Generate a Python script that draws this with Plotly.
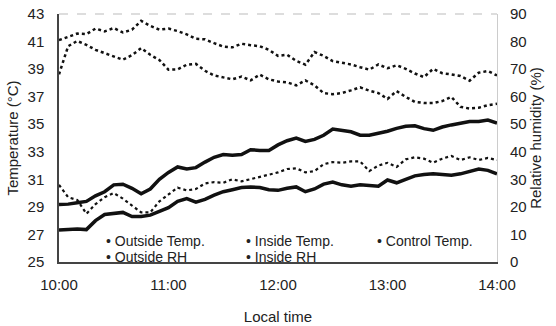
import plotly.graph_objects as go

# sampling grid (minutes after 10:00)
minutes = list(range(0, 241, 5))
times = [f"2024-01-01 {10 + m // 60:02d}:{m % 60:02d}:00" for m in minutes]

# temperatures (°C), left axis
outside_temp = [29.17, 29.2, 29.3, 29.4, 29.8, 30.1, 30.6, 30.65, 30.35, 29.95, 30.3, 31.0, 31.5,
                31.9, 31.75, 31.85, 32.25, 32.6, 32.8, 32.75, 32.8, 33.15, 33.1, 33.1, 33.5, 33.8,
                34.0, 33.75, 33.9, 34.2, 34.65, 34.55, 34.45, 34.2, 34.2, 34.35, 34.49, 34.7, 34.85,
                34.89, 34.68, 34.56, 34.8, 34.95, 35.05, 35.2, 35.2, 35.3, 35.08]
inside_temp = [30.6, 29.7, 29.5, 28.5, 29.2, 29.7, 30.0, 29.6, 29.1, 28.6, 28.6, 29.4, 29.9,
               30.4, 30.2, 30.3, 30.7, 30.8, 30.75, 31.0, 30.85, 31.0, 31.2, 31.3, 31.5, 31.75,
               31.8, 31.5, 31.6, 32.1, 32.25, 32.2, 32.3, 32.3, 31.6, 32.0, 32.2, 31.9, 32.45,
               32.6, 32.5, 32.2, 32.5, 32.7, 32.4, 32.6, 32.4, 32.55, 32.4]
control_temp = [27.33, 27.38, 27.4, 27.35, 28.0, 28.45, 28.55, 28.6, 28.3, 28.3, 28.4, 28.7, 28.95,
                29.4, 29.6, 29.35, 29.55, 29.85, 30.1, 30.25, 30.4, 30.45, 30.4, 30.25, 30.2, 30.35,
                30.45, 30.1, 30.3, 30.65, 30.8, 30.6, 30.5, 30.6, 30.55, 30.5, 30.95, 30.75, 31.0,
                31.25, 31.35, 31.4, 31.35, 31.3, 31.4, 31.55, 31.75, 31.65, 31.4]
# relative humidity (%), right axis
outside_rh = [68.1, 78.3, 80.2, 78.8, 77.0, 75.8, 74.6, 73.4, 75.1, 77.6, 75.2, 73.3, 69.8,
              69.9, 71.6, 71.9, 69.4, 67.7, 67.0, 66.3, 67.3, 65.9, 68.0, 66.3, 65.5, 65.2,
              64.1, 65.9, 64.1, 61.3, 60.9, 61.3, 62.3, 63.4, 62.2, 61.3, 59.2, 62.0, 59.9,
              58.1, 57.7, 57.7, 58.4, 59.9, 56.3, 55.7, 56.0, 56.9, 57.4]
inside_rh = [80.5, 81.8, 82.9, 82.7, 84.7, 83.7, 84.9, 83.3, 84.3, 87.5, 85.7, 84.3, 84.7,
             83.8, 82.6, 81.0, 80.8, 79.4, 78.2, 77.9, 79.2, 78.7, 78.3, 77.0, 74.8, 75.2,
             73.0, 71.6, 76.2, 74.8, 72.9, 72.3, 71.7, 70.7, 69.8, 71.7, 70.3, 71.4, 70.1,
             68.4, 67.1, 70.1, 68.5, 68.1, 67.5, 65.8, 68.7, 69.3, 67.7]

legend_row1 = ["Outside Temp.", "Inside Temp.", "Control Temp."]
legend_row2 = ["Outside RH", "Inside RH"]

FONT = "Liberation Sans, Arial, sans-serif"
INK = "#111"

fig = go.Figure()
fig.add_trace(go.Scatter(x=times, y=outside_temp, name="Outside Temp.", mode="lines",
                         line=dict(color=INK, width=3.5)))
fig.add_trace(go.Scatter(x=times, y=inside_temp, name="Inside Temp.", mode="lines",
                         line=dict(color=INK, width=2.2, dash="dot")))
fig.add_trace(go.Scatter(x=times, y=control_temp, name="Control Temp.", mode="lines",
                         line=dict(color=INK, width=3.5)))
fig.add_trace(go.Scatter(x=times, y=outside_rh, name="Outside RH", mode="lines", yaxis="y2",
                         line=dict(color=INK, width=2.5, dash="dot")))
fig.add_trace(go.Scatter(x=times, y=inside_rh, name="Inside RH", mode="lines", yaxis="y2",
                         line=dict(color=INK, width=2.5, dash="dot")))

# legend drawn as text rows, as in the original
annotations = []
col_x = [0.1027, 0.4224, 0.7215]
for i, t in enumerate(legend_row1):
    annotations.append(dict(x=col_x[i], y=0.085, xref="paper", yref="paper", text="• " + t,
                            showarrow=False, xanchor="left", yanchor="middle",
                            font=dict(family=FONT, size=14, color="#222")))
for i, t in enumerate(legend_row2):
    annotations.append(dict(x=col_x[i], y=0.022, xref="paper", yref="paper", text="• " + t,
                            showarrow=False, xanchor="left", yanchor="middle",
                            font=dict(family=FONT, size=14, color="#222")))

fig.update_layout(
    width=556, height=326,
    margin=dict(l=59, r=59, t=14, b=64),
    plot_bgcolor="white", paper_bgcolor="white",
    showlegend=False,
    font=dict(family=FONT, size=15, color="#222"),
    annotations=annotations,
    xaxis=dict(type="date", range=["2024-01-01 10:00:00", "2024-01-01 14:00:00"],
               dtick=3600000, tickformat="%H:%M", showgrid=False, zeroline=False,
               showline=True, linecolor="#444", linewidth=1.5, ticks="",
               ticklabelstandoff=8, automargin=False,
               title=dict(text="Local time", standoff=20, font=dict(size=15))),
    yaxis=dict(range=[25, 43], tick0=25, dtick=2, showgrid=False, zeroline=False,
               showline=True, linecolor="#444", linewidth=1.5, ticks="",
               ticklabelstandoff=10, automargin=False,
               title=dict(text="Temperature (°C)", standoff=5, font=dict(size=15))),
    yaxis2=dict(range=[0, 90], tick0=0, dtick=10, overlaying="y", side="right", showgrid=False,
                zeroline=False, showline=True, linecolor="#ccc", linewidth=1, ticks="",
                ticklabelstandoff=9, automargin=False,
                title=dict(text="Relative humidity (%)", standoff=3, font=dict(size=15))),
    shapes=[dict(type="line", xref="paper", yref="paper", x0=0, x1=1, y0=1, y1=1,
                 line=dict(color="#bbb", width=1, dash="dash"))],
)

fig.write_html("out.html")
